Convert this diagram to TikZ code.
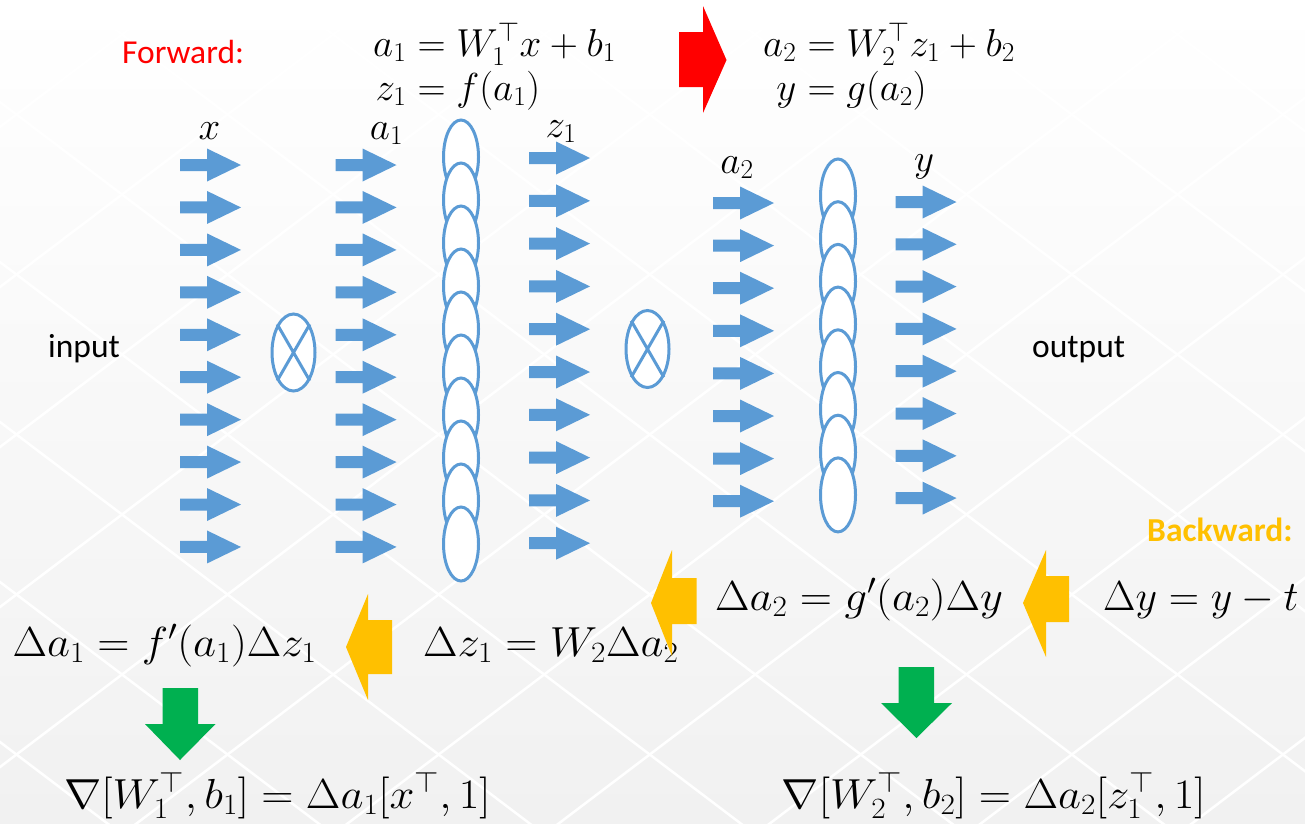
\RequirePackage{fix-cm}
\documentclass[tikz,border=0pt]{standalone}
\usepackage{amsmath}
\usepackage{graphicx}
\usepackage{fontspec}
\newfontfamily\carl{Carlito}
\usetikzlibrary{shapes.geometric}
\definecolor{nblue}{HTML}{5B9BD5}
\definecolor{nred}{HTML}{FF0000}
\definecolor{ngold}{HTML}{FFC000}
\definecolor{ngreen}{HTML}{00B050}
\definecolor{bgbottom}{HTML}{F1F1F1}
\newcommand\wideeq[1]{\scalebox{1.064}[1]{$#1$}}
\tikzset{
  barrowfill/.style={fill=nblue},
  rarrow/.pic={\fill[barrowfill] (0,-6) -- (27,-6) -- (27,-16.5) -- (61,0) -- (27,16.5) -- (27,6) -- (0,6) -- cycle;},
  cell/.style={ellipse, draw=nblue, line width=3pt, fill=white, minimum width=35pt, minimum height=74pt, inner sep=0pt},
  mult/.style={ellipse, draw=nblue, line width=3pt, fill=white, minimum width=43pt, minimum height=77pt, inner sep=0pt},
  crossline/.style={draw=nblue, line width=3pt},
  mathtop/.style={inner sep=0pt, font=\fontsize{39}{46}\selectfont},
  mathbot/.style={inner sep=0pt, font=\fontsize{42}{50}\selectfont},
  sanslab/.style={inner sep=0pt, font=\carl\fontsize{33.5}{40}\selectfont},
  bgline/.style={white, line width=2.5pt},
  fwdarrow/.style={fill=nred},
  bwdarrow/.style={fill=ngold},
  gradarrow/.style={fill=ngreen},
}
\begin{document}
\begin{tikzpicture}[x=1pt,y=-1pt]
\useasboundingbox (0,0) rectangle (1305,823);
% background
\shade[top color=white, bottom color=bgbottom] (0,0) rectangle (1305,823);
\begin{scope}
\clip (0,0) rectangle (1305,823);
\foreach \n in {-10,...,1}
  \draw[bgline] (-10,{582+160*\n-7.58}) -- (1320,{582+160*\n+1000.6});
\foreach \n in {-4,...,8}
  \draw[bgline] (-10,{607+160*\n+7.58}) -- (1320,{607+160*\n-1000.6});
\end{scope}
% blue arrows
\foreach \i in {0,...,9} {
  \pic at (180,{165+42.44*\i}) {rarrow};
  \pic at (335.5,{165+42.44*\i}) {rarrow};
  \pic at (529,{158+42.8*\i}) {rarrow};
}
\foreach \i in {0,...,7} {
  \pic at (713,{203+42.6*\i}) {rarrow};
  \pic at (895.5,{202+42.3*\i}) {rarrow};
}
% hidden-unit ellipses
\foreach \i in {0,...,9}
  \node[cell] (h\i) at (461,{157+43*\i}) {};
\foreach \i in {0,...,7}
  \node[cell] (o\i) at (838,{196+42.7*\i}) {};
% multiplication nodes
\node[mult] (m1) at (293.5,352.5) {};
\draw[crossline] (m1.120) -- (m1.-60) (m1.60) -- (m1.240);
\node[mult] (m2) at (647.5,349) {};
\draw[crossline] (m2.120) -- (m2.-60) (m2.60) -- (m2.240);
% column labels
\node[mathtop, anchor=base] (lx) at (209.5,139) {$x$};
\node[mathtop, anchor=base] (la1) at (386.5,139) {$a_1$};
\node[mathtop, anchor=base] (lz1) at (561,137) {$z_1$};
\node[mathtop, anchor=base] (la2) at (737,173) {$a_2$};
\node[mathtop, anchor=base] (ly) at (924,171) {$y$};
% forward equations
\node[mathtop, anchor=base west] (e1l) at (373,56) {$a_1$};
\node[mathtop, anchor=base west] (e1r) at (e1l.base east) {${}= W_1^{\top} x + b_1$};
\path (e1r.base west) ++(0,44) coordinate (e2a);
\node[mathtop, anchor=base west] (e2r) at (e2a) {${}= f(a_1)$};
\node[mathtop, anchor=base east] (e2l) at (e2r.base west) {$z_1$};
\node[mathtop, anchor=base west] (e3l) at (763,56) {$a_2$};
\node[mathtop, anchor=base west] (e3r) at (e3l.base east) {${}= W_2^{\top} z_1 + b_2$};
\path (e3r.base west) ++(0,44) coordinate (e4a);
\node[mathtop, anchor=base west] (e4r) at (e4a) {${}= g(a_2)$};
\node[mathtop, anchor=base east] (e4l) at (e4r.base west) {$y$};
% sans labels
\node[sanslab, anchor=base west, text=nred] (fwd) at (122,63) {Forward:};
\node[sanslab, anchor=base west] (inp) at (48,357) {input};
\node[sanslab, anchor=base west] (outp) at (1032,357) {output};
\node[sanslab, anchor=base west, text=ngold, font=\carl\bfseries\fontsize{33.5}{40}\selectfont] (bwd) at (1147,541.5) {Backward:};
% backward equations
\node[mathbot, anchor=base west] (d1) at (12.4,656) {\wideeq{\Delta a_1 = f'(a_1)\Delta z_1}};
\node[mathbot, anchor=base west] (d2) at (423,656) {\wideeq{\Delta z_1 = W_2 \Delta a_2}};
\node[mathbot, anchor=base west] (d3) at (715,610) {\wideeq{\Delta a_2 = g'(a_2)\Delta y}};
\node[mathbot, anchor=base west] (d4) at (1103,610) {$\Delta y = y - t$};
\node[mathbot, anchor=base west] (g1) at (64,808) {\wideeq{\nabla[W_1^{\top}, b_1] = \Delta a_1[x^{\top}, 1]}};
\node[mathbot, anchor=base west] (g2) at (781.5,808) {\wideeq{\nabla[W_2^{\top}, b_2] = \Delta a_2[z_1^{\top}, 1]}};
% block arrows
\fill[fwdarrow] (679,32) -- (703,32) -- (703,6) -- (726.5,60) -- (703,113) -- (703,87) -- (679,87) -- cycle;
\fill[bwdarrow] (392,620) -- (368,620) -- (368,594) -- (346,647) -- (368,700) -- (368,674) -- (392,674) -- cycle;
\fill[bwdarrow] (696.5,578) -- (672,578) -- (672,550) -- (651,603) -- (672,656) -- (672,624) -- (696.5,624) -- cycle;
\fill[bwdarrow] (1069,576) -- (1046,576) -- (1046,550) -- (1023,603) -- (1046,657) -- (1046,622) -- (1069,622) -- cycle;
\fill[gradarrow] (162.5,688) -- (198,688) -- (198,724) -- (215.5,724) -- (180,760) -- (145,724) -- (162.5,724) -- cycle;
\fill[gradarrow] (898.5,667) -- (934,667) -- (934,703) -- (952,703) -- (916.5,738) -- (881,703) -- (898.5,703) -- cycle;
\end{tikzpicture}
\end{document}
